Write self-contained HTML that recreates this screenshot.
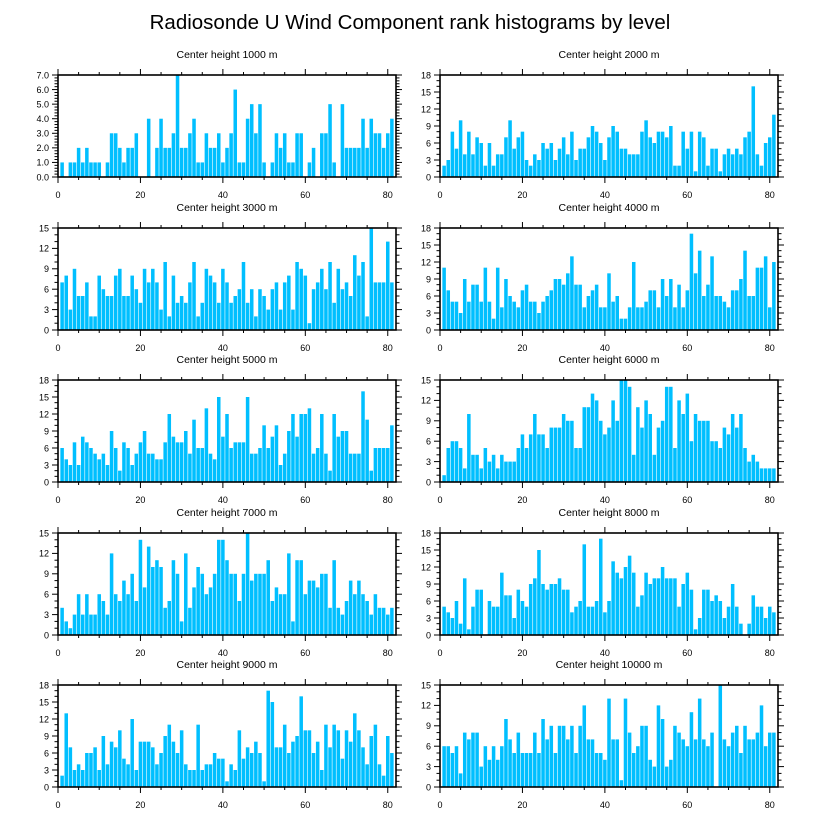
<!DOCTYPE html>
<html><head><meta charset="utf-8"><style>
html,body{margin:0;padding:0;background:#fff;}
svg{display:block;font-family:"Liberation Sans",sans-serif;}
</style></head><body>
<svg id="chart" width="818" height="824" viewBox="0 0 818 824">
<text x="410" y="29" text-anchor="middle" font-size="20.5" fill="#000">Radiosonde U Wind Component rank histograms by level</text>
</svg>
<script>
const titles = ["Center height 1000 m","Center height 2000 m","Center height 3000 m","Center height 4000 m","Center height 5000 m","Center height 6000 m","Center height 7000 m","Center height 8000 m","Center height 9000 m","Center height 10000 m"];
const yMaxes = [7,18,15,18,18,15,15,18,18,15];
const yStepsMajor = [1,3,3,3,3,3,3,3,3,3];
const xTicks = [0,20,40,60,80];
const h1000 = [1,0,1,1,2,1,2,1,1,1,0,1,3,3,2,1,2,2,3,0,0,4,0,2,4,2,2,3,7,2,2,3,4,1,1,3,2,2,3,1,2,3,6,1,1,4,5,3,5,1,0,1,3,2,3,1,1,3,3,0,1,2,0,3,3,5,1,0,5,2,2,2,2,4,2,4,3,3,2,3,4];
const h2000 = [2,3,8,5,10,4,8,4,7,6,2,6,2,4,4,7,10,5,7,8,3,2,4,3,6,5,6,3,5,7,4,8,3,5,5,7,9,8,6,3,7,9,8,5,5,4,4,4,8,10,7,6,8,8,7,9,2,2,8,5,8,1,8,7,2,5,5,1,4,5,4,5,4,7,8,16,4,2,6,7,11];
const h3000 = [7,8,3,9,5,5,7,2,2,8,6,5,5,8,9,5,5,8,6,4,9,7,9,7,3,10,2,8,4,5,4,7,10,2,4,9,8,7,4,9,7,4,5,6,10,4,6,2,6,5,3,6,7,3,7,8,3,10,9,8,1,6,7,9,6,10,4,9,6,7,5,11,8,10,2,15,7,7,7,13,7];
const h4000 = [11,7,5,5,3,9,5,8,8,5,11,5,2,11,4,9,6,5,4,7,8,5,5,3,5,6,7,9,9,8,10,13,8,8,4,6,7,8,4,4,10,5,6,2,2,4,12,4,4,5,7,7,4,9,6,9,4,8,4,7,17,10,14,6,8,13,6,6,5,4,7,7,9,14,6,6,11,11,13,4,12];
const h5000 = [6,4,3,7,3,8,7,6,5,4,5,3,9,6,2,7,6,3,5,7,9,5,5,4,4,7,12,8,7,7,9,5,11,6,6,13,5,4,15,8,12,6,7,7,7,15,5,5,6,10,6,8,10,3,5,9,12,8,12,12,13,5,6,12,5,2,12,8,9,9,5,5,5,16,11,2,6,6,6,6,10];
const h6000 = [1,5,6,6,5,2,10,4,4,2,5,3,4,2,4,3,3,3,5,7,5,7,10,7,7,5,8,8,8,10,9,9,5,5,11,11,13,12,9,7,8,12,9,15,15,14,4,11,8,12,10,4,8,9,14,14,5,12,10,13,6,10,9,9,9,6,6,5,8,7,10,8,10,5,3,4,3,2,2,2,2];
const h7000 = [4,2,1,3,6,3,6,3,3,6,5,3,12,6,5,8,6,9,5,14,7,13,10,11,10,4,5,11,9,2,12,4,7,10,9,6,7,9,14,14,11,9,9,5,9,15,8,9,9,9,11,5,7,6,6,12,2,11,11,6,8,8,7,9,9,4,11,4,3,5,8,6,8,6,5,3,6,4,4,3,4];
const h8000 = [5,4,3,6,2,10,1,5,8,8,0,6,5,5,11,7,7,3,8,6,5,9,10,15,9,8,9,9,10,8,8,4,5,6,16,5,5,6,17,4,6,13,11,10,12,14,11,5,7,11,9,10,10,12,10,10,10,5,9,11,8,1,3,8,8,6,7,6,3,5,9,5,2,0,2,7,5,5,3,5,4];
const h9000 = [2,13,7,3,4,3,6,6,7,3,9,4,8,7,10,5,4,12,3,8,8,8,7,4,6,9,11,8,6,10,4,3,3,11,3,4,4,6,5,5,1,4,3,10,5,7,6,8,6,1,17,15,7,7,11,6,8,9,16,10,10,6,8,3,11,7,11,10,5,10,8,13,10,7,4,9,11,4,2,9,6];
const h10000 = [6,6,5,6,2,8,7,8,8,3,6,4,6,4,6,10,7,5,8,5,5,5,8,5,10,7,9,5,9,9,7,9,5,9,12,7,7,5,5,4,13,7,7,1,13,8,5,6,9,9,4,3,12,10,3,4,9,8,7,6,11,7,13,7,6,8,0,15,7,6,8,9,5,9,7,7,8,12,6,8,8];
const allData = [h1000,h2000,h3000,h4000,h5000,h6000,h7000,h8000,h9000,h10000];

const NS = "http://www.w3.org/2000/svg";
const svg = document.getElementById('chart');
const colX = [58, 440], plotW = 338;
const rowY = [75, 228, 380, 533, 685], plotH = 102;
const X_MAX = 82;
function mk(tag, attrs, parent){const e=document.createElementNS(NS,tag);for(const k in attrs)e.setAttribute(k,attrs[k]);parent.appendChild(e);return e;}

allData.forEach((vals, p) => {
  const x0 = colX[p%2], y0 = rowY[Math.floor(p/2)];
  const yMax = yMaxes[p], step = yStepsMajor[p];
  const xs = v => x0 + v/X_MAX*plotW;
  const ys = v => y0 + plotH - v/yMax*plotH;
  const g = mk('g', {}, svg);
  
  
  const t = mk('text', {x: x0+plotW/2, y: y0-17, 'text-anchor':'middle','font-size':'10.5',fill:'#000'}, g);
  
  
  t.textContent = titles[p];
  vals.forEach((v, i) => {
    if (v <= 0) return;
    const r = i + 1;
    const b = mk('rect', {x: xs(r-0.5)+0.3, y: ys(v), width: xs(1)-xs(0)-0.6, height: ys(0)-ys(v), fill:'#00bfff'}, g);
    
    
  });
  const frame = mk('rect', {x:x0, y:y0, width:plotW, height:plotH, fill:'none', stroke:'#000','stroke-width':'1.6'}, g);
  
  
  // y ticks
  const minorStep = step === 1 ? 0.2 : 1;
  for (let v = 0; v <= yMax + 1e-9; v += minorStep) {
    const isMaj = Math.abs(v/step - Math.round(v/step)) < 1e-6;
    const len = isMaj ? 6 : 3.5;
    const yy = ys(v);
    mk('line', {x1:x0, x2:x0-len, y1:yy, y2:yy, stroke:'#000','stroke-width':'1'}, g);
    mk('line', {x1:x0+plotW, x2:x0+plotW+len, y1:yy, y2:yy, stroke:'#000','stroke-width':'1'}, g);
  }
  for (let v = 0; v <= yMax + 1e-9; v += step) {
    const lab = mk('text', {x:x0-9, y:ys(v)+3.3, 'text-anchor':'end','font-size':'9',fill:'#000'}, g);
    
    
    lab.textContent = step === 1 ? v.toFixed(1) : String(v);
  }
  // x ticks
  for (let v = 0; v <= X_MAX; v += 5) {
    const isMaj = v % 20 === 0;
    const len = isMaj ? 6 : 3;
    const xx = xs(v);
    mk('line', {x1:xx, x2:xx, y1:y0+plotH, y2:y0+plotH+len, stroke:'#000','stroke-width':'1'}, g);
    mk('line', {x1:xx, x2:xx, y1:y0, y2:y0-len, stroke:'#000','stroke-width':'1'}, g);
  }
  xTicks.forEach(v => {
    const lab = mk('text', {x:xs(v), y:y0+plotH+21, 'text-anchor':'middle','font-size':'9',fill:'#000'}, g);
    
    
    lab.textContent = String(v);
  });
});
</script>
</body></html>
